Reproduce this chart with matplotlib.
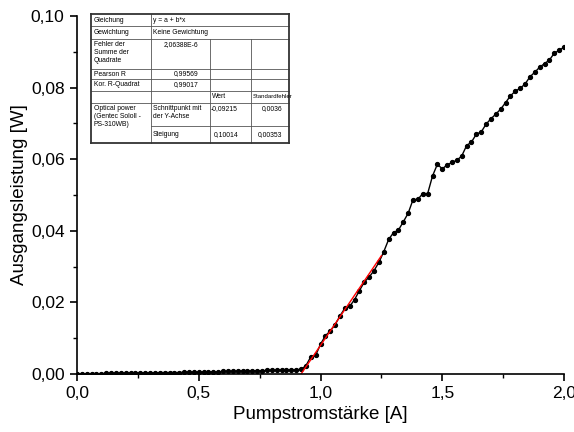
import numpy as np
import matplotlib
matplotlib.use("Agg")
import matplotlib.pyplot as plt
from matplotlib.ticker import FuncFormatter, MultipleLocator
from matplotlib.lines import Line2D

plt.rcParams['font.family'] = ['Liberation Sans', 'DejaVu Sans']

## Messdaten ##
strom = [0.00, 0.02, 0.04, 0.06, 0.08, 0.10, 0.12, 0.14, 0.16, 0.18,
         0.20, 0.22, 0.24, 0.26, 0.28, 0.30, 0.32, 0.34, 0.36, 0.38,
         0.40, 0.42, 0.44, 0.46, 0.48, 0.50, 0.52, 0.54, 0.56, 0.58,
         0.60, 0.62, 0.64, 0.66, 0.68, 0.70, 0.72, 0.74, 0.76, 0.78,
         0.80, 0.82, 0.84, 0.86, 0.88, 0.90, 0.92, 0.94, 0.96, 0.98,
         1.00, 1.02, 1.04, 1.06, 1.08, 1.10, 1.12, 1.14, 1.16, 1.18,
         1.20, 1.22, 1.24, 1.26, 1.28, 1.30, 1.32, 1.34, 1.36, 1.38,
         1.40, 1.42, 1.44, 1.46, 1.48, 1.50, 1.52, 1.54, 1.56, 1.58,
         1.60, 1.62, 1.64, 1.66, 1.68, 1.70, 1.72, 1.74, 1.76, 1.78,
         1.80, 1.82, 1.84, 1.86, 1.88, 1.90, 1.92, 1.94, 1.96, 1.98,
         2.00]
leistung = [0.0000, 0.0000, 0.0001, 0.0001, 0.0001, 0.0001, 0.0002, 0.0002, 0.0002, 0.0002,
            0.0002, 0.0003, 0.0003, 0.0003, 0.0003, 0.0003, 0.0003, 0.0004, 0.0004, 0.0004,
            0.0004, 0.0004, 0.0005, 0.0005, 0.0005, 0.0005, 0.0006, 0.0006, 0.0006, 0.0006,
            0.0007, 0.0007, 0.0007, 0.0008, 0.0008, 0.0008, 0.0009, 0.0009, 0.0009, 0.0010,
            0.0010, 0.0010, 0.0011, 0.0011, 0.0011, 0.0012, 0.0013, 0.0023, 0.0048, 0.0052,
            0.0083, 0.0107, 0.0120, 0.0138, 0.0162, 0.0184, 0.0189, 0.0208, 0.0233, 0.0257,
            0.0271, 0.0289, 0.0312, 0.0342, 0.0376, 0.0395, 0.0402, 0.0425, 0.0449, 0.0487,
            0.0488, 0.0504, 0.0504, 0.0553, 0.0586, 0.0573, 0.0584, 0.0591, 0.0597, 0.0609,
            0.0638, 0.0648, 0.0670, 0.0676, 0.0698, 0.0713, 0.0726, 0.0740, 0.0758, 0.0777,
            0.0790, 0.0798, 0.0810, 0.0830, 0.0843, 0.0857, 0.0867, 0.0877, 0.0896, 0.0904,
            0.0913]

## Linearer Fit ##
fit_a = -0.09215
fit_b = 0.10014
fit_bereich = [0.92, 1.25]

x_label = "Pumpstromstärke [A]"
y_label = "Ausgangsleistung [W]"

fig = plt.figure(figsize=(5.74, 4.32), dpi=100)
ax = fig.add_axes([77/574, 1 - 374/432, (564 - 77)/574, (374 - 16)/432])

ax.plot(strom, leistung, color='black', lw=1.0, marker='o', ms=2.8)
xf = np.array(fit_bereich)
ax.plot(xf, fit_a + fit_b*xf, color='red', lw=1.0)

ax.set_xlim(0, 2.0)
ax.set_ylim(0, 0.10)
ax.xaxis.set_major_locator(MultipleLocator(0.5))
ax.xaxis.set_minor_locator(MultipleLocator(0.25))
ax.yaxis.set_major_locator(MultipleLocator(0.02))
ax.yaxis.set_minor_locator(MultipleLocator(0.01))
ax.xaxis.set_major_formatter(FuncFormatter(lambda v, p: f"{v:.1f}".replace('.', ',')))
ax.yaxis.set_major_formatter(FuncFormatter(lambda v, p: f"{v:.2f}".replace('.', ',')))
ax.tick_params(which='major', direction='out', length=5, width=1.2, labelsize=12.5, pad=4)
ax.tick_params(which='minor', direction='out', length=3, width=1.0)
for s in ['top', 'right']:
    ax.spines[s].set_visible(False)
for s in ['left', 'bottom']:
    ax.spines[s].set_linewidth(1.2)
ax.set_xlabel(x_label, fontsize=13.5, labelpad=3)
ax.set_ylabel(y_label, fontsize=13.5, labelpad=2)

## Tabelle mit Fitergebnissen (Pixelkoordinaten) ##
def fx(px):
    return px / 574

def fy(py):
    return 1 - py / 432

def linie(x0, y0, x1, y1, lw=0.6, c='#555555'):
    fig.add_artist(Line2D([fx(x0), fx(x1)], [fy(y0), fy(y1)], lw=lw, color=c,
                          transform=fig.transFigure))

def text(px, py, s, ha='left', va='center', size=4.9):
    fig.text(fx(px), fy(py), s, ha=ha, va=va, fontsize=size, linespacing=1.15)

cols = [91, 151, 210, 251, 289]
rows = [14, 26, 39, 69, 79, 91, 103, 126, 143]

fig.patches.append(plt.Rectangle((fx(cols[0]), fy(rows[-1])), fx(cols[-1]) - fx(cols[0]),
                                 fy(rows[0]) - fy(rows[-1]), fill=True, facecolor='white',
                                 edgecolor='none', transform=fig.transFigure, figure=fig))
for r in rows[1:-1]:
    if r == 126:
        linie(cols[1], r, cols[-1], r)
    else:
        linie(cols[0], r, cols[-1], r)
linie(cols[1], rows[0], cols[1], rows[-1])
linie(cols[2], rows[2], cols[2], rows[-1])
linie(cols[3], rows[2], cols[3], rows[-1])
linie(cols[0], rows[0], cols[-1], rows[0], lw=1.3, c='#333333')
linie(cols[0], rows[-1], cols[-1], rows[-1], lw=1.3, c='#333333')
linie(cols[0], rows[0], cols[0], rows[-1], lw=1.3, c='#333333')
linie(cols[-1], rows[0], cols[-1], rows[-1], lw=1.3, c='#333333')

text(94, 20, "Gleichung")
text(153, 20, "y = a + b*x")
text(94, 32.5, "Gewichtung")
text(153, 32.5, "Keine Gewichtung")
text(94, 41, "Fehler der\nSumme der\nQuadrate", va='top')
text(198, 41, "2,06388E-6", ha='right', va='top')
text(94, 74, "Pearson R")
text(198, 74, "0,99569", ha='right')
text(94, 85, "Kor. R-Quadrat")
text(198, 85, "0,99017", ha='right')
text(212, 97, "Wert")
text(253, 97, "Standardfehler", size=4.3)
text(94, 105, "Optical power\n(Gentec Sololl -\nPS-310WB)", va='top')
text(153, 105, "Schnittpunkt mit\nder Y-Achse", va='top')
text(238, 108.5, "-0,09215", ha='right')
text(282, 108.5, "0,0036", ha='right')
text(153, 134.5, "Steigung")
text(238, 134.5, "0,10014", ha='right')
text(282, 134.5, "0,00353", ha='right')

plt.savefig("out.png", dpi=100)
